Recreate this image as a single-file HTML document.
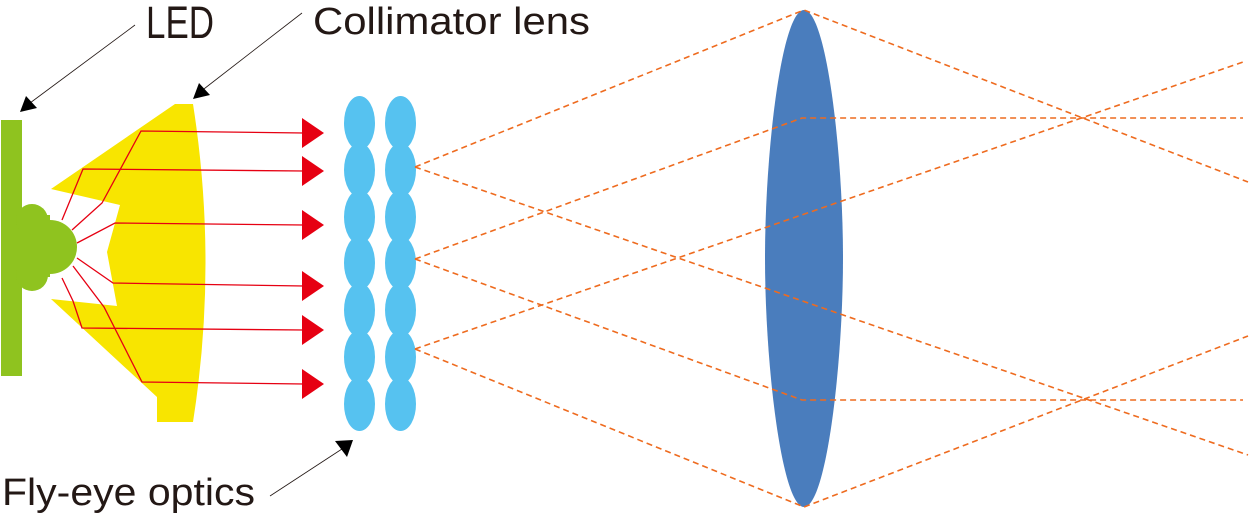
<!DOCTYPE html>
<html><head><meta charset="utf-8"><style>
html,body{margin:0;padding:0;background:#fff}
svg{display:block}
text{font-family:"Liberation Sans",sans-serif;fill:#231815}
</style></head><body>
<svg width="1249" height="518" viewBox="0 0 1249 518" xmlns="http://www.w3.org/2000/svg">
<!-- labels -->
<text x="146" y="38" font-size="45" textLength="68" lengthAdjust="spacingAndGlyphs">LED</text>
<text x="313" y="34" font-size="38" textLength="277" lengthAdjust="spacingAndGlyphs">Collimator lens</text>
<text x="2" y="505" font-size="38" textLength="253" lengthAdjust="spacingAndGlyphs">Fly-eye optics</text>
<!-- leaders -->
<g stroke="#231815" stroke-width="0.8">
<line x1="135" y1="25" x2="30" y2="103"/>
<line x1="302" y1="13" x2="200" y2="92"/>
<line x1="270" y1="496" x2="345" y2="447"/>
</g>
<g fill="#000">
<polygon points="20,112 26,96 37,108"/>
<polygon points="193,99 199,83 210,95"/>
<polygon points="353,440 335,441 347,457"/>
</g>
<!-- LED -->
<rect x="1" y="120" width="21" height="256" fill="#8fc31f"/>
<g fill="#8fc31f">
<circle cx="32" cy="220" r="16"/>
<circle cx="32" cy="275" r="16"/>
<circle cx="50" cy="247" r="27"/>
<rect x="20" y="215" width="30" height="62"/>
</g>
<!-- collimator lens -->
<path d="M175,104 L193,104 Q218,263 193,422 L157,422 L157,397 L51,299 L117,306 L107,252 L120,205 L51,189 Z" fill="#f8e500"/>
<!-- red rays -->
<g stroke="#e60012" stroke-width="1.3" fill="none">
<polyline points="72,230 102,203 141,131 304,133"/>
<polyline points="62,220 83,169 304,171"/>
<polyline points="77,243 115,223 304,225"/>
<polyline points="77,258 113,283 304,286"/>
<polyline points="62,278 73,301 82,328 304,330"/>
<polyline points="73,266 104,307 142,382 304,384"/>
</g>
<g fill="#e60012">
<polygon points="302,118 324,133 302,148"/>
<polygon points="302,156 324,171 302,186"/>
<polygon points="302,210 324,225 302,240"/>
<polygon points="302,271 324,286 302,301"/>
<polygon points="302,315 324,330 302,345"/>
<polygon points="302,369 324,384 302,399"/>
</g>
<!-- fly-eye -->
<g fill="#56c2f0">
<ellipse cx="359.5" cy="123" rx="15.5" ry="27"/>
<ellipse cx="359.5" cy="170" rx="15.5" ry="27"/>
<ellipse cx="359.5" cy="217" rx="15.5" ry="27"/>
<ellipse cx="359.5" cy="263" rx="15.5" ry="27"/>
<ellipse cx="359.5" cy="310" rx="15.5" ry="27"/>
<ellipse cx="359.5" cy="357" rx="15.5" ry="27"/>
<ellipse cx="359.5" cy="404" rx="15.5" ry="27"/>
<ellipse cx="400.5" cy="123" rx="15.5" ry="27"/>
<ellipse cx="400.5" cy="170" rx="15.5" ry="27"/>
<ellipse cx="400.5" cy="217" rx="15.5" ry="27"/>
<ellipse cx="400.5" cy="263" rx="15.5" ry="27"/>
<ellipse cx="400.5" cy="310" rx="15.5" ry="27"/>
<ellipse cx="400.5" cy="357" rx="15.5" ry="27"/>
<ellipse cx="400.5" cy="404" rx="15.5" ry="27"/>
</g>
<!-- big lens -->
<path d="M804,10 C826,10 843,150 843,258 C843,366 826,507 804,507 C782,507 765,366 765,258 C765,150 782,10 804,10 Z" fill="#4a7dbd"/>
<!-- dashed rays -->
<g stroke="#ee6b1f" stroke-width="1.6" fill="none" stroke-dasharray="6,4">
<polyline points="415,167 804,10 1248,182"/>
<polyline points="415,259 802,118 1243,118"/>
<polyline points="415,349 1243,62"/>
<polyline points="415,167 1248,455"/>
<polyline points="415,259 802,400 1243,400"/>
<polyline points="415,349 804,507 1248,336"/>
</g>
</svg>
</body></html>
